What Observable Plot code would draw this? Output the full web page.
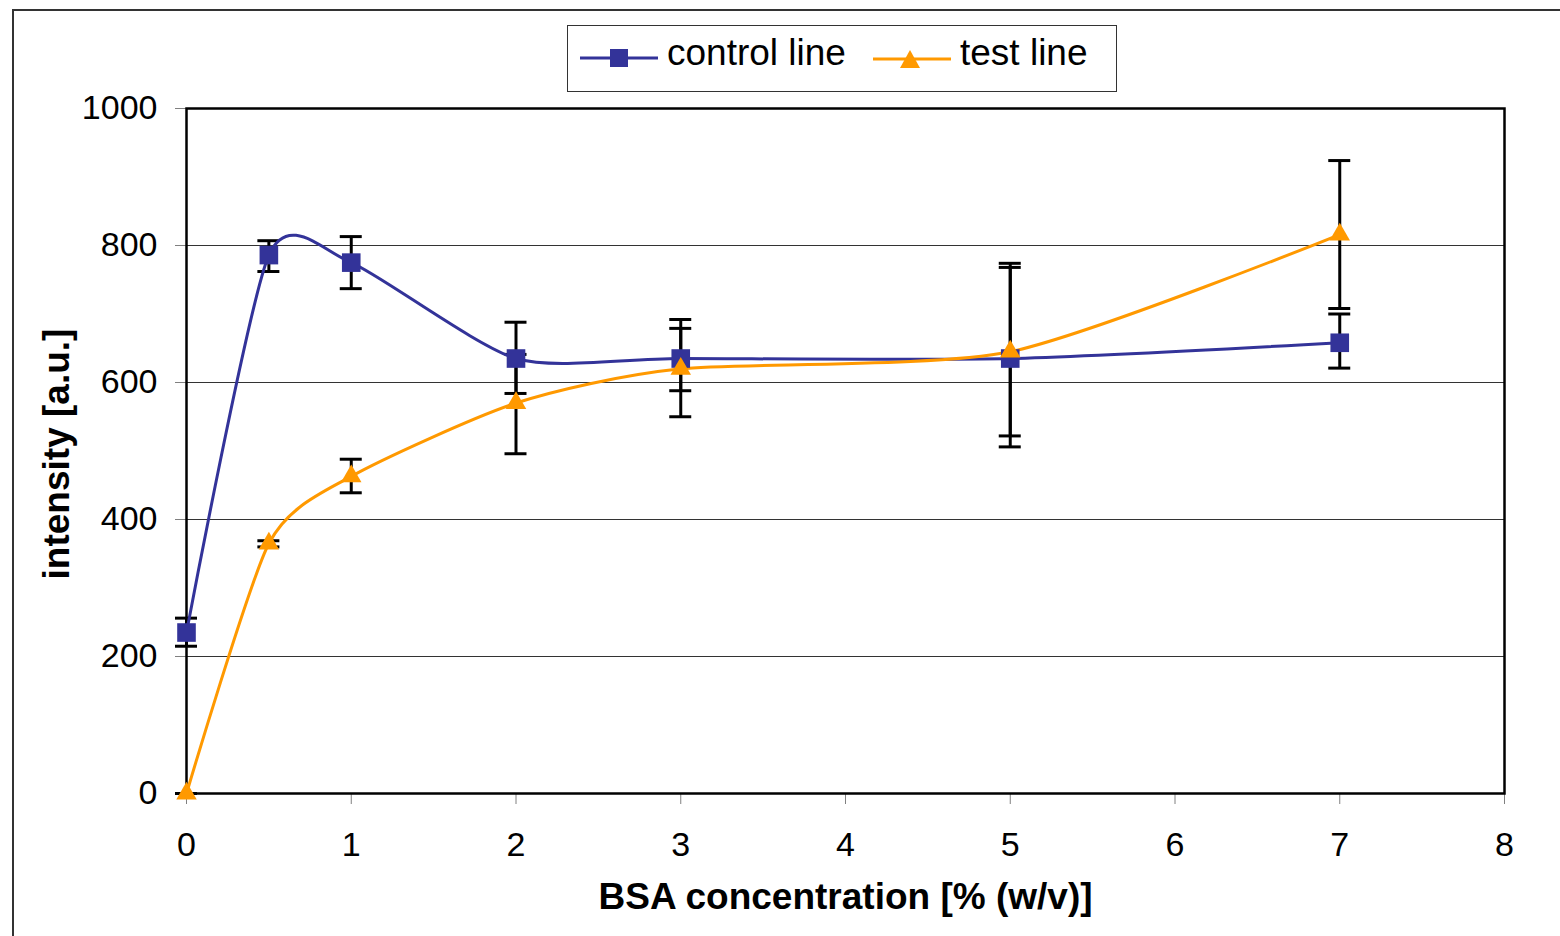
<!DOCTYPE html>
<html>
<head>
<meta charset="utf-8">
<script src="https://cdn.jsdelivr.net/npm/d3@7"></script>
<script src="https://cdn.jsdelivr.net/npm/@observablehq/plot@0.6"></script>
<style>
  html, body { margin: 0; padding: 0; background: #fff; overflow: hidden; }
  #wrap { position: relative; width: 1560px; height: 936px; font-family: "Liberation Sans", Arial, sans-serif; }
  #outer { position: absolute; left: 12px; top: 9px; width: 1600px; height: 1000px; border: 2px solid #333; box-sizing: border-box; }
  #chart { position: absolute; left: 0; top: 0; }
  #legend { position: absolute; left: 567px; top: 25px; width: 550px; height: 67px; border: 1.5px solid #333; box-sizing: border-box; background: #fff; }
  .item { position: absolute; top: 0; height: 64px; display: flex; align-items: center; font-size: 37px; color: #000; }
  .item svg { margin-right: 9px; }
  .item span { position: relative; top: -5px; }
</style>
</head>
<body>
<div id="wrap">
  <div id="outer"></div>
  <div id="chart"></div>
  <div id="legend">
    <div class="item" style="left:12px;">
      <svg width="78" height="24"><line x1="0" y1="12" x2="78" y2="12" stroke="#333399" stroke-width="3"/><rect x="30" y="3" width="18" height="18" fill="#333399"/></svg>
      <span>control line</span>
    </div>
    <div class="item" style="left:305px;">
      <svg width="78" height="24"><line x1="0" y1="13" x2="78" y2="13" stroke="#FF9900" stroke-width="3"/><polygon points="27,22 37,4 47,22" fill="#FF9900"/></svg>
      <span>test line</span>
    </div>
  </div>
</div>
<script>
// Data
const conc = [0, 0.5, 1, 2, 3, 5, 7];
const controlLine = [235, 786, 775, 635, 635, 635, 658];
const controlLow  = [215, 762, 737, 584, 588, 506, 621];
const controlHigh = [256, 807, 813, 688, 679, 768, 700];
const testLine = [0, 365, 463, 570, 620, 645, 816];
const testLow  = [0, 360, 439, 496, 550, 522, 708];
const testHigh = [0, 369, 488, 641, 692, 774, 924];
const xTicks = [0, 1, 2, 3, 4, 5, 6, 7, 8];
const yTicks = [0, 200, 400, 600, 800, 1000];
const gridLines = [200, 400, 600, 800, 1000];
const xLabel = "BSA concentration [% (w/v)]";
const yLabel = "intensity [a.u.]";

const controlRows = conc.map((x, i) => ({x, y: controlLine[i], lo: controlLow[i], hi: controlHigh[i]}));
const testRows = conc.map((x, i) => ({x, y: testLine[i], lo: testLow[i], hi: testHigh[i]}));
const allRows = controlRows.concat(testRows);

const blue = "#333399";
const orange = "#FF9900";

const chart = Plot.plot({
  width: 1560,
  height: 936,
  marginLeft: 186,
  marginRight: 56,
  marginTop: 108,
  marginBottom: 143,
  x: {domain: [0, 8]},
  y: {domain: [0, 1000]},
  style: {fontFamily: "'Liberation Sans', Arial, sans-serif", fontSize: "34px", background: "transparent", color: "#000"},
  marks: [
    Plot.ruleY(gridLines, {stroke: "#333", strokeWidth: 1}),
    Plot.axisX({ticks: xTicks, tickSize: 11, tickPadding: 27, stroke: "#808080", fill: "#000", tickFormat: d => String(d), label: null}),
    Plot.axisY({ticks: yTicks, tickSize: 11, tickPadding: 18, stroke: "#808080", fill: "#000", tickFormat: d => String(d), label: null}),
    Plot.frame({stroke: "#000", strokeWidth: 2.5}),
    Plot.ruleX(allRows, {x: "x", y1: "lo", y2: "hi", stroke: "#000", strokeWidth: 3}),
    Plot.ruleY(allRows, {x1: "x", x2: "x", y: "lo", insetLeft: -11, insetRight: -11, stroke: "#000", strokeWidth: 3}),
    Plot.ruleY(allRows, {x1: "x", x2: "x", y: "hi", insetLeft: -11, insetRight: -11, stroke: "#000", strokeWidth: 3}),
    Plot.line(controlRows, {x: "x", y: "y", stroke: blue, strokeWidth: 3, curve: "cardinal", tension: 0.3}),
    Plot.line(testRows, {x: "x", y: "y", stroke: orange, strokeWidth: 3, curve: "cardinal", tension: 0.3}),
    Plot.dot(controlRows, {x: "x", y: "y", symbol: "square", r: 10.5, fill: blue, stroke: null}),
    Plot.dot(testRows, {x: "x", y: "y", symbol: "triangle", r: 7.6, fill: orange, stroke: null}),
    Plot.text([xLabel], {text: d => d, frameAnchor: "bottom", lineAnchor: "middle", textAnchor: "middle", dy: 104, dx: 0, fontWeight: "bold", fontSize: 37, fill: "#000"}),
    Plot.text([yLabel], {text: d => d, frameAnchor: "left", lineAnchor: "middle", textAnchor: "middle", dx: -129, dy: 3, rotate: -90, fontWeight: "bold", fontSize: 37, fill: "#000"})
  ]
});
document.getElementById("chart").appendChild(chart);
</script>
</body>
</html>
